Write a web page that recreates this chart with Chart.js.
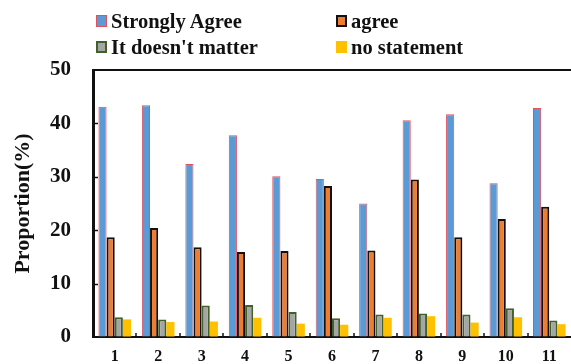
<!DOCTYPE html>
<html>
<head>
<meta charset="utf-8">
<script src="https://cdn.jsdelivr.net/npm/chart.js@4/dist/chart.umd.min.js"></script>
<style>
  html, body { margin: 0; padding: 0; background: #fff; }
  #wrap { position: relative; width: 571px; height: 364px; overflow: hidden; }
  #chart { position: absolute; left: 0; top: 0; }
  .lg { position: absolute; font-family: "Liberation Serif", "Times New Roman", serif; font-weight: bold;
        font-size: 20.5px; line-height: 20px; color: #111; white-space: nowrap; }
  .lg i { position: absolute; display: block; box-sizing: border-box; }
</style>
</head>
<body>
<div id="wrap">
  <canvas id="chart" width="571" height="364"></canvas>
  <div id="legend"></div>
</div>
<script>
// Survey items 1-11 and the share of answers (%) in each response group
const categories = ['1', '2', '3', '4', '5', '6', '7', '8', '9', '10', '11'];
const seriesNames = ['Strongly Agree', 'agree', "It doesn't matter", 'no statement'];
const stronglyAgree = [43.1, 43.4, 32.4, 37.8, 30.1, 29.6, 25.0, 40.6, 41.7, 28.8, 42.9];
const agree         = [18.7, 20.4, 16.8, 15.9, 16.1, 28.3, 16.2, 29.5, 18.7, 22.1, 24.4];
const doesntMatter  = [3.7, 3.3, 5.9, 6.0, 4.7, 3.5, 4.2, 4.4, 4.2, 5.4, 3.1];
const noStatement   = [3.3, 2.8, 2.9, 3.6, 2.5, 2.3, 3.6, 3.9, 2.7, 3.7, 2.4];
const yTicks = [0, 10, 20, 30, 40, 50];

const serif = '"Liberation Serif", "Times New Roman", serif';

const styles = [
  { bg: '#5B9BD5', border: '#E0505F', bw: 1 },
  { bg: '#ED7D31', border: '#111111', bw: 2 },
  { bg: '#A5A5A5', border: '#41602A', bw: 2 },
  { bg: '#FFC000', border: '#FFC000', bw: 0 }
];
const values = [stronglyAgree, agree, doesntMatter, noStatement];

const datasets = values.map((v, i) => ({
  label: seriesNames[i],
  data: v,
  backgroundColor: styles[i].bg,
  borderColor: styles[i].border,
  borderWidth: styles[i].bw,
  categoryPercentage: 0.75,
  barPercentage: 1.0
}));

// Frame details: top rule, inward y ticks, small ticks between categories
const frame = {
  id: 'frame',
  afterDraw(chart) {
    const ctx = chart.ctx;
    const { left, right, bottom } = chart.chartArea;
    const ys = chart.scales.y, xs = chart.scales.x;
    ctx.save();
    ctx.strokeStyle = '#111';
    ctx.lineWidth = 2;
    const yTop = ys.getPixelForValue(yTicks[yTicks.length - 1]);
    ctx.beginPath();
    ctx.moveTo(left, yTop);
    ctx.lineTo(right, yTop);
    ctx.stroke();
    ctx.lineWidth = 1.5;
    ctx.beginPath();
    yTicks.slice(1, -1).forEach(v => {
      const py = Math.round(ys.getPixelForValue(v)) + 0.5;
      ctx.moveTo(left, py);
      ctx.lineTo(left + 5, py);
    });
    for (let i = 1; i < categories.length; i++) {
      const px = Math.round((xs.getPixelForValue(i - 1) + xs.getPixelForValue(i)) / 2);
      ctx.moveTo(px, bottom);
      ctx.lineTo(px, bottom - 4);
    }
    ctx.stroke();
    ctx.restore();
  }
};

const chart = new Chart(document.getElementById('chart'), {
  type: 'bar',
  data: { labels: categories, datasets },
  options: {
    responsive: false,
    animation: false,
    layout: { padding: { top: 70, right: 0, left: 0, bottom: 0 } },
    plugins: { legend: { display: false }, tooltip: { enabled: false } },
    scales: {
      x: {
        grid: { display: false, drawTicks: false },
        border: { display: true, color: '#111', width: 2 },
        ticks: { color: '#111', padding: 10, font: { family: serif, size: 16, weight: 'bold' } },
        afterFit(s) { s.height = 27; }
      },
      y: {
        min: yTicks[0],
        max: yTicks[yTicks.length - 1],
        afterBuildTicks(s) { s.ticks = yTicks.map(v => ({ value: v })); },
        grid: { display: true, drawOnChartArea: false, drawTicks: true, tickLength: 19, tickColor: 'rgba(0,0,0,0)' },
        border: { display: true, color: '#111', width: 3 },
        ticks: { color: '#111', padding: 3, font: { family: serif, size: 21, weight: 'bold' } },
        title: {
          display: true, text: 'Proportion(%)', color: '#111',
          font: { family: serif, size: 22, weight: 'bold' },
          padding: { top: 10, bottom: 0 }
        },
        afterFit(s) { s.width = 93; }
      }
    }
  },
  plugins: [frame]
});

// Two-column legend built from the chart's datasets
const legendPos = [
  { x: 96, y: 11 }, { x: 336, y: 11 },
  { x: 96, y: 36.5 }, { x: 336, y: 36.5 }
];
const legendEl = document.getElementById('legend');
chart.data.datasets.forEach((ds, i) => {
  const item = document.createElement('div');
  item.className = 'lg';
  item.style.left = legendPos[i].x + 'px';
  item.style.top = legendPos[i].y + 'px';
  item.style.paddingLeft = '15px';
  const box = document.createElement('i');
  box.style.left = '0px';
  box.style.top = '4px';
  box.style.width = '11px';
  box.style.height = '12px';
  box.style.background = ds.backgroundColor;
  box.style.border = (ds.borderWidth || 0) + 'px solid ' + ds.borderColor;
  item.appendChild(box);
  item.appendChild(document.createTextNode(ds.label));
  legendEl.appendChild(item);
});
</script>
</body>
</html>
